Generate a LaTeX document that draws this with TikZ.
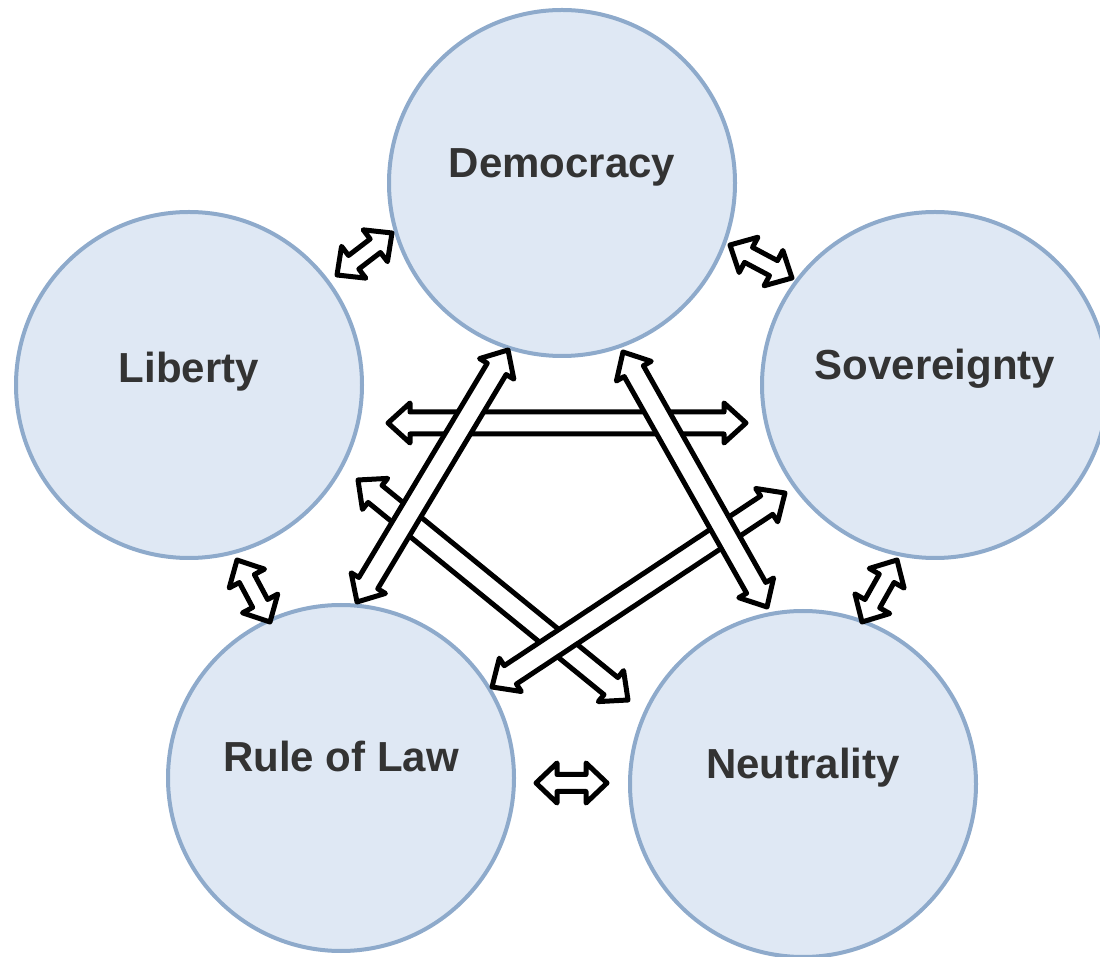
\documentclass[tikz,border=0pt]{standalone}
\usepackage{fontspec}
\setmainfont{Liberation Sans}
\usetikzlibrary{calc}
\definecolor{cfill}{HTML}{DFE8F4}
\definecolor{cline}{HTML}{8EAACB}
\definecolor{ctext}{HTML}{333333}
% #1 = end A, #2 = end B, #3 = half shaft width, #4 = half head width, #5 = head length
\newcommand{\dblarr}[5]{%
  \draw[arr] (#1)
    -- ($(#1)!#5!(#2)!#4!90:(#2)$)
    -- ($(#1)!#5!(#2)!#3!90:(#2)$)
    -- ($(#2)!#5!(#1)!#3!-90:(#1)$)
    -- ($(#2)!#5!(#1)!#4!-90:(#1)$)
    -- (#2)
    -- ($(#2)!#5!(#1)!#4!90:(#1)$)
    -- ($(#2)!#5!(#1)!#3!90:(#1)$)
    -- ($(#1)!#5!(#2)!#3!-90:(#2)$)
    -- ($(#1)!#5!(#2)!#4!-90:(#2)$)
    -- cycle;}
\begin{document}
\begin{tikzpicture}[x=1pt,y=1pt,
  bubble/.style={circle, draw=cline, fill=cfill, line width=4pt, minimum size=346pt, inner sep=0pt},
  lab/.style={anchor=base, text=ctext, font=\fontsize{42}{50}\selectfont\bfseries, inner sep=0pt},
  arr/.style={draw=black, fill=white, line width=5pt, line join=round}]
\useasboundingbox (0,0) rectangle (1100,956);
% circles
\node[bubble] (dem) at (562,773) {};
\node[bubble] (lib) at (189,571) {};
\node[bubble] (sov) at (935,571) {};
\node[bubble] (rol) at (341,178) {};
\node[bubble] (neu) at (803,172) {};
% labels
\node[lab] (demt) at ($(dem.center)+(0,5)$) {Democracy};
\node[lab] (libt) at ($(lib.center)+(0,2)$) {Liberty};
\node[lab] (sovt) at ($(sov.center)+(0,5)$) {Sovereignty};
\node[lab] (rolt) at ($(rol.center)+(0,6)$) {Rule of Law};
\node[lab] (neut) at ($(neu.center)+(0,5)$) {Neutrality};
% arrow end points
\coordinate (ld1) at ($(lib.center)+(148,110)$);
\coordinate (ld2) at ($(dem.center)+(-170,-50)$);
\coordinate (ds1) at ($(dem.center)+(168,-62)$);
\coordinate (ds2) at ($(sov.center)+(-143,107)$);
\coordinate (ls1) at ($(lib.center)+(199,-38)$);
\coordinate (ls2) at ($(sov.center)+(-189,-38)$);
\coordinate (dr1) at ($(dem.center)+(-54,-167)$);
\coordinate (dr2) at ($(rol.center)+(16,176)$);
\coordinate (dn1) at ($(dem.center)+(61,-169)$);
\coordinate (dn2) at ($(neu.center)+(-36,177)$);
\coordinate (ln1) at ($(lib.center)+(169,-95)$);
\coordinate (ln2) at ($(neu.center)+(-175,84)$);
\coordinate (rs1) at ($(rol.center)+(151,91)$);
\coordinate (rs2) at ($(sov.center)+(-150,-108)$);
\coordinate (lr1) at ($(lib.center)+(48,-175)$);
\coordinate (lr2) at ($(rol.center)+(-71,156)$);
\coordinate (sn1) at ($(sov.center)+(-38,-175)$);
\coordinate (sn2) at ($(neu.center)+(59,162)$);
\coordinate (rn1) at ($(rol.center)+(195,-5)$);
\coordinate (rn2) at ($(neu.center)+(-196,1)$);
% short arrows
\dblarr{ld1}{ld2}{8.5pt}{20pt}{21pt}
\dblarr{ds1}{ds2}{8.5pt}{20pt}{21pt}
\dblarr{lr1}{lr2}{8.5pt}{20pt}{21pt}
\dblarr{sn1}{sn2}{8.5pt}{20pt}{21pt}
\dblarr{rn1}{rn2}{8.5pt}{20pt}{21pt}
% long arrows
\dblarr{ls1}{ls2}{11pt}{20pt}{22pt}
\dblarr{ln1}{ln2}{11pt}{20pt}{22pt}
\dblarr{rs1}{rs2}{11pt}{20pt}{22pt}
\dblarr{dn1}{dn2}{11pt}{20pt}{22pt}
\dblarr{dr1}{dr2}{11pt}{20pt}{22pt}
\end{tikzpicture}
\end{document}
